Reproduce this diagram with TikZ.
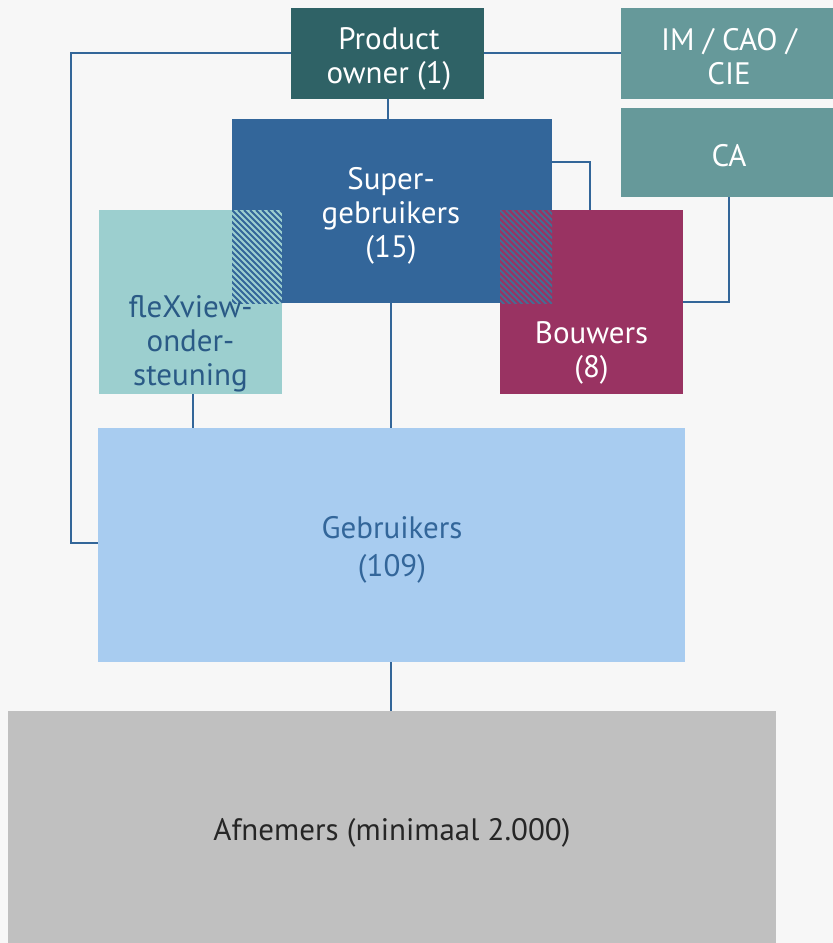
\documentclass[tikz,border=0pt]{standalone}
\usepackage{fontspec}
\setmainfont{PT Sans}
\usetikzlibrary{calc}
\definecolor{bg}{HTML}{F7F7F7}
\definecolor{po}{HTML}{2F6266}
\definecolor{im}{HTML}{66999A}
\definecolor{sup}{HTML}{33669A}
\definecolor{flx}{HTML}{9CCFCF}
\definecolor{bw}{HTML}{993362}
\definecolor{geb}{HTML}{A8CCF0}
\definecolor{afn}{HTML}{C0C0C0}
\definecolor{ln}{HTML}{336699}
\definecolor{flxtxt}{HTML}{2A5A86}
\begin{document}
\begin{tikzpicture}[x=1pt,y=-1pt,
  box/.style={draw=none,inner sep=0pt,outer sep=0pt,align=center,font=\fontsize{31}{34}\selectfont},
  conn/.style={draw=ln,line width=2pt}]
\useasboundingbox (0,0) rectangle (833,943);
\fill[bg] (0,0) rectangle (833,943);
% boxes
\node[box,fill=flx,minimum width=183pt,minimum height=184pt] (flex) at (190.5,302) {};
\node[box,fill=bw,minimum width=183pt,minimum height=184pt] (bouw) at (591.5,302) {};
\node[box,fill=sup,minimum width=320pt,minimum height=184pt] (super) at (392,211) {};
\node[box,fill=po,minimum width=193pt,minimum height=91pt] (po) at (387.5,53.5) {};
\node[box,fill=im,minimum width=212pt,minimum height=91pt] (im) at (727,53.5) {};
\node[box,fill=im,minimum width=212pt,minimum height=89pt] (ca) at (727,152.5) {};
\node[box,fill=geb,minimum width=587pt,minimum height=234pt] (geb) at (391.5,545) {};
\node[box,fill=afn,minimum width=768pt,minimum height=232pt] (afn) at (392,827) {};
% hatched overlaps
\begin{scope}
\clip (flex.north west -| super.west) rectangle (super.south -| flex.east);
\fill[flx] (flex.north west -| super.west) rectangle (super.south -| flex.east);
\foreach \i in {-120,-114,...,160} {\draw[ln,line width=2pt] (232+\i,210) -- ++(120,120);}
\end{scope}
\begin{scope}
\clip (bouw.north west) rectangle (super.south east);
\fill[bw] (bouw.north west) rectangle (super.south east);
\foreach \i in {-120,-114,...,160} {\draw[ln!75!gray,line width=2pt] (500+\i,210) -- ++(120,120);}
\end{scope}
% texts
\node[box,text=white] (potxt) at (389,59) {Product\\owner (1)};
\node[box,text=white] (imtxt) at (729,57) {IM / CAO /\\CIE};
\node[box,text=white] (catxt) at (729,156) {CA};
\node[box,text=white] (suptxt) at (391,216) {Super-\\gebruikers\\(15)};
\node[box,text=flxtxt] (flextxt) at (190.5,344) {fleXview-\\onder-\\steuning};
\node[box,text=white] (bouwtxt) at (591.5,353) {Bouwers\\(8)};
\node[box,text=sup,font=\fontsize{31}{38}\selectfont] (gebtxt) at (392,550) {Gebruikers\\(109)};
\node[box,text=black!85] (afntxt) at (392,833) {Afnemers (minimaal 2.000)};
% connectors
\coordinate (lt) at (71,53);
\coordinate (lb) at (71,543);
\draw[conn] (po.west |- lt) -- (lt) -- (lb) -- (geb.west |- lb);
\draw[conn] (po.east |- lt) -- (im.west |- lt);
\draw[conn] (po.south) -- (super.north -| po.south);
\coordinate (sr) at (590,162);
\draw[conn] (super.east |- sr) -- (sr) -- (bouw.north -| sr);
\coordinate (cr) at (729,302);
\draw[conn] (ca.south -| cr) -- (cr) -- (bouw.east |- cr);
\draw[conn] (super.south -| 391,0) -- (geb.north -| 391,0);
\draw[conn] (flex.south -| 193,0) -- (geb.north -| 193,0);
\draw[conn] (geb.south -| 391,0) -- (afn.north -| 391,0);
\end{tikzpicture}
\end{document}
